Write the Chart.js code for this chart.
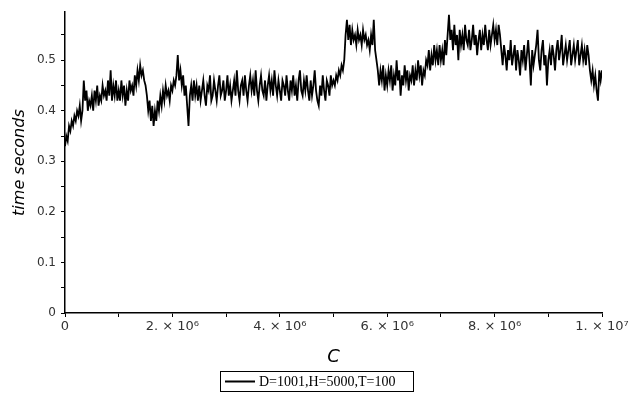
<!DOCTYPE html>
<html>
<head>
<meta charset="utf-8">
<title>time seconds vs C</title>
<script src="https://cdn.jsdelivr.net/npm/chart.js"></script>
<style>
  body { margin: 0; background: #fff; }
  #wrap { width: 636px; height: 400px; position: relative; }
</style>
</head>
<body>
<div id="wrap"><canvas id="chart"></canvas></div>
<script>
// data: one sample every 25000 in C, from 0 to 1e7
const C_START = 0;
const C_STEP = 25000;
const seriesLabel = 'D=1001,H=5000,T=100';
const timeSeconds = [
  0.33, 0.35, 0.34, 0.37, 0.36, 0.38, 0.37, 0.39, 0.38, 0.40, 0.39, 0.41, 0.38, 0.40, 0.46, 0.42, 0.44, 0.40, 0.42, 0.41,
  0.43, 0.40, 0.44, 0.42, 0.45, 0.41, 0.43, 0.42, 0.45, 0.43, 0.44, 0.42, 0.46, 0.43, 0.48, 0.42, 0.45, 0.43, 0.46, 0.42,
  0.44, 0.42, 0.46, 0.43, 0.45, 0.41, 0.44, 0.42, 0.46, 0.44, 0.45, 0.43, 0.47, 0.45, 0.48, 0.46, 0.49, 0.47, 0.48, 0.46,
  0.45, 0.43, 0.40, 0.42, 0.38, 0.41, 0.37, 0.40, 0.38, 0.42, 0.40, 0.43, 0.41, 0.44, 0.42, 0.45, 0.43, 0.44, 0.42, 0.45,
  0.44, 0.46, 0.45, 0.47, 0.51, 0.46, 0.48, 0.45, 0.47, 0.43, 0.45, 0.41, 0.37, 0.43, 0.45, 0.42, 0.46, 0.43, 0.45, 0.42,
  0.45, 0.42, 0.44, 0.46, 0.43, 0.41, 0.45, 0.44, 0.47, 0.42, 0.43, 0.46, 0.44, 0.42, 0.45, 0.47, 0.43, 0.44, 0.46, 0.42,
  0.44, 0.47, 0.43, 0.45, 0.42, 0.44, 0.46, 0.43, 0.48, 0.44, 0.42, 0.45, 0.46, 0.43, 0.47, 0.44, 0.42, 0.45, 0.47, 0.44,
  0.46, 0.43, 0.48, 0.44, 0.42, 0.45, 0.47, 0.44, 0.43, 0.46, 0.42, 0.45, 0.47, 0.44, 0.46, 0.43, 0.48, 0.45, 0.43, 0.46,
  0.44, 0.42, 0.46, 0.45, 0.43, 0.47, 0.44, 0.42, 0.46, 0.44, 0.47, 0.43, 0.45, 0.42, 0.46, 0.48, 0.44, 0.43, 0.46, 0.44,
  0.47, 0.44, 0.42, 0.46, 0.43, 0.45, 0.48, 0.44, 0.42, 0.41, 0.45, 0.43, 0.47, 0.44, 0.42, 0.46, 0.45, 0.43, 0.47, 0.45,
  0.46, 0.45, 0.47, 0.46, 0.48, 0.47, 0.49, 0.48, 0.50, 0.55, 0.58, 0.54, 0.57, 0.53, 0.56, 0.54, 0.55, 0.53, 0.56, 0.54,
  0.55, 0.53, 0.56, 0.54, 0.55, 0.53, 0.54, 0.52, 0.55, 0.53, 0.58, 0.52, 0.50, 0.48, 0.45, 0.48, 0.46, 0.49, 0.44, 0.47,
  0.45, 0.48, 0.46, 0.49, 0.44, 0.47, 0.45, 0.50, 0.46, 0.48, 0.43, 0.47, 0.45, 0.49, 0.46, 0.48, 0.44, 0.47, 0.46, 0.49,
  0.45, 0.48, 0.46, 0.50, 0.47, 0.49, 0.45, 0.48, 0.47, 0.50, 0.49, 0.52, 0.48, 0.51, 0.49, 0.53, 0.50, 0.52, 0.49, 0.53,
  0.50, 0.52, 0.49, 0.54, 0.51, 0.55, 0.59, 0.54, 0.56, 0.52, 0.57, 0.53, 0.55, 0.50, 0.56, 0.53, 0.55, 0.52, 0.57, 0.54,
  0.53, 0.56, 0.52, 0.54, 0.57, 0.53, 0.55, 0.51, 0.54, 0.56, 0.52, 0.55, 0.53, 0.57, 0.54, 0.52, 0.56, 0.53, 0.55, 0.57,
  0.54, 0.56, 0.53, 0.57, 0.55, 0.52, 0.49, 0.53, 0.51, 0.48, 0.52, 0.50, 0.54, 0.49, 0.51, 0.53, 0.48, 0.52, 0.50, 0.47,
  0.52, 0.50, 0.53, 0.48, 0.51, 0.54, 0.50, 0.45, 0.52, 0.49, 0.51, 0.53, 0.56, 0.50, 0.48, 0.52, 0.54, 0.49, 0.51, 0.45,
  0.50, 0.52, 0.49, 0.53, 0.51, 0.48, 0.52, 0.54, 0.50, 0.52, 0.55, 0.49, 0.51, 0.53, 0.50, 0.52, 0.54, 0.49, 0.51, 0.53,
  0.50, 0.52, 0.54, 0.49, 0.51, 0.53, 0.50, 0.52, 0.49, 0.53, 0.51, 0.48, 0.46, 0.48, 0.45, 0.47, 0.44, 0.42, 0.48, 0.46,
  0.48
];
const xTickLabels = {0: '0', 2: '2. × 10⁶', 4: '4. × 10⁶', 6: '6. × 10⁶', 8: '8. × 10⁶', 10: '1. × 10⁷'};

const points = timeSeconds.map((v, i) => ({ x: C_START + i * C_STEP, y: v }));

// boxed legend like the original, drawn under the axis title
const boxLegend = {
  id: 'boxLegend',
  afterDraw(chart) {
    const ctx = chart.ctx;
    ctx.save();
    ctx.strokeStyle = '#000';
    ctx.lineWidth = 1;
    ctx.strokeRect(220.5, 371.5, 193, 20);
    ctx.lineWidth = 2;
    ctx.beginPath();
    ctx.moveTo(225, 381.5);
    ctx.lineTo(255, 381.5);
    ctx.stroke();
    ctx.fillStyle = '#000';
    ctx.font = '14px "Liberation Serif"';
    ctx.textBaseline = 'middle';
    ctx.fillText(seriesLabel, 259, 382);
    ctx.restore();
  }
};

new Chart(document.getElementById('chart'), {
  type: 'line',
  data: {
    datasets: [{
      label: seriesLabel,
      data: points,
      borderColor: '#000',
      borderWidth: 1.8,
      pointRadius: 0,
      tension: 0,
      fill: false
    }]
  },
  options: {
    responsive: true,
    maintainAspectRatio: false,
    animation: false,
    layout: { padding: { top: 8, right: 34, left: 0, bottom: 0 } },
    plugins: {
      legend: { display: false },
      tooltip: { enabled: false }
    },
    scales: {
      x: {
        type: 'linear',
        min: 0,
        max: 10000000,
        afterFit: s => { s.height = 87; },
        border: { display: true, color: '#000', width: 1.5 },
        grid: { display: true, drawOnChartArea: false, drawTicks: true, tickLength: 4, tickColor: '#000', tickWidth: 1 },
        ticks: {
          stepSize: 1000000,
          maxRotation: 0,
          autoSkip: false,
          padding: 2,
          color: '#333',
          font: { family: 'DejaVu Sans', size: 13 },
          callback: v => xTickLabels[Math.round(v / 1000000)] ?? ''
        },
        title: {
          display: true,
          text: 'C',
          color: '#000',
          font: { family: 'DejaVu Sans', size: 18, style: 'italic' },
          padding: { top: 0, bottom: 32 }
        }
      },
      y: {
        min: 0,
        max: 0.595,
        afterFit: s => { s.width = 65; },
        border: { display: true, color: '#000', width: 1.5 },
        grid: { display: true, drawOnChartArea: false, drawTicks: true, tickLength: 4, tickColor: '#000', tickWidth: 1 },
        ticks: {
          stepSize: 0.05,
          includeBounds: false,
          autoSkip: false,
          padding: 5,
          color: '#333',
          font: { family: 'DejaVu Sans', size: 12 },
          callback: v => {
            const k = Math.round(v * 100);
            return k % 10 === 0 ? String(k / 100) : '';
          }
        },
        title: {
          display: true,
          text: 'time seconds',
          color: '#000',
          font: { family: 'DejaVu Sans', size: 16, style: 'italic' },
          padding: { top: 10, bottom: 0 }
        }
      }
    }
  },
  plugins: [boxLegend]
});
</script>
</body>
</html>
